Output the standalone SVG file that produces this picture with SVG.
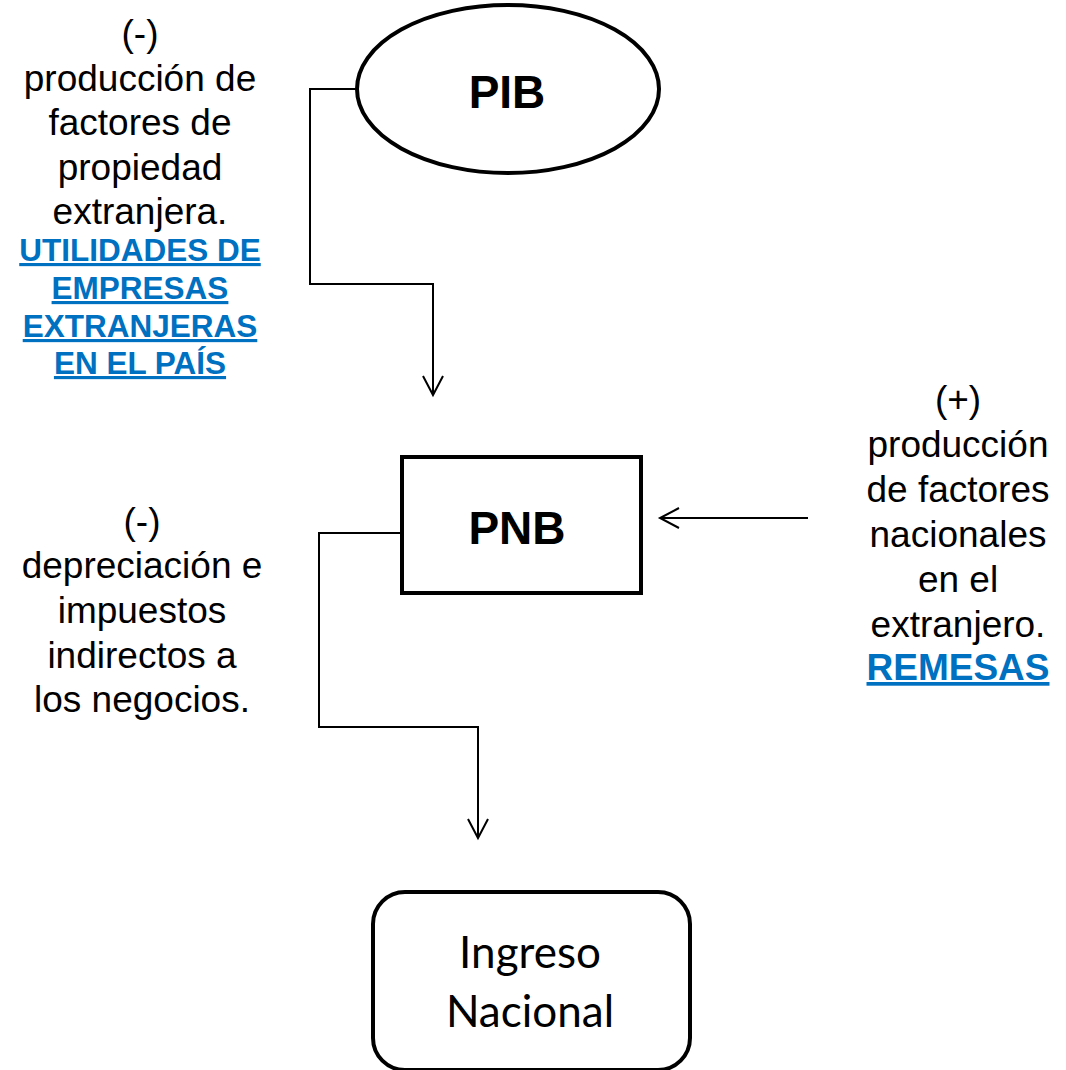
<svg xmlns="http://www.w3.org/2000/svg" width="1066" height="1070" viewBox="0 0 1066 1070">
  <style>
    .lbl { font-family: "Liberation Sans", Arial, sans-serif; font-size: 37px; fill: #000; text-anchor: middle; }
    .blue { font-family: "Liberation Sans", Arial, sans-serif; font-size: 31.5px; font-weight: bold; fill: #0070C0; text-anchor: middle; text-decoration: underline; }
    .blue-lg { font-size: 37px; }
    .title { font-family: "Liberation Sans", Arial, sans-serif; font-size: 46px; font-weight: bold; fill: #000; text-anchor: middle; }
    .ingreso { font-family: Lato, "Open Sans", sans-serif; font-size: 44px; fill: #000; text-anchor: middle; }
    .conn { fill: none; stroke: #000; stroke-width: 2; }
    .shape { fill: #fff; stroke: #000; stroke-width: 4; }
  </style>
  <defs>
    <marker id="arrow" markerUnits="userSpaceOnUse" markerWidth="24" markerHeight="24" viewBox="-21 -12 24 24" refX="0" refY="0" orient="auto">
      <path d="M-19,-10 L0,0 L-19,10" fill="none" stroke="#000" stroke-width="2"/>
    </marker>
  </defs>
  <rect width="1066" height="1070" fill="#fff"/>

  <g id="connectors">
    <path class="conn" d="M357,89 H310 V284 H433 V395" marker-end="url(#arrow)"/>
    <path class="conn" d="M402,533 H319 V727 H478 V838" marker-end="url(#arrow)"/>
    <path class="conn" d="M808,518 H660" marker-end="url(#arrow)"/>
  </g>

  <g id="pib">
    <ellipse class="shape" cx="508" cy="89" rx="151" ry="84"/>
    <text class="title" x="507" y="108">PIB</text>
  </g>

  <g id="pnb">
    <rect class="shape" x="402" y="457" width="239" height="136"/>
    <text class="title" x="517" y="544">PNB</text>
  </g>

  <g id="ingreso">
    <rect class="shape" x="373" y="892" width="317" height="178" rx="32" ry="32"/>
    <text class="ingreso" x="530" y="968">Ingreso</text>
    <text class="ingreso" x="530" y="1027">Nacional</text>
  </g>

  <g id="label-pib">
    <text class="lbl" x="140" y="46">(-)</text>
    <text class="lbl" x="140" y="91">producción de</text>
    <text class="lbl" x="140" y="135">factores de</text>
    <text class="lbl" x="140" y="180">propiedad</text>
    <text class="lbl" x="140" y="224">extranjera.</text>
    <text class="blue" x="140" y="261">UTILIDADES DE</text>
    <text class="blue" x="140" y="299">EMPRESAS</text>
    <text class="blue" x="140" y="337">EXTRANJERAS</text>
    <text class="blue" x="140" y="374">EN EL PAÍS</text>
  </g>

  <g id="label-pnb">
    <text class="lbl" x="142" y="534">(-)</text>
    <text class="lbl" x="142" y="578">depreciación e</text>
    <text class="lbl" x="142" y="623">impuestos</text>
    <text class="lbl" x="142" y="668">indirectos a</text>
    <text class="lbl" x="142" y="712">los negocios.</text>
  </g>

  <g id="label-remesas">
    <text class="lbl" x="958" y="412">(+)</text>
    <text class="lbl" x="958" y="457">producción</text>
    <text class="lbl" x="958" y="502">de factores</text>
    <text class="lbl" x="958" y="547">nacionales</text>
    <text class="lbl" x="958" y="592">en el</text>
    <text class="lbl" x="958" y="637">extranjero.</text>
    <text class="blue blue-lg" x="958" y="680">REMESAS</text>
  </g>
</svg>
